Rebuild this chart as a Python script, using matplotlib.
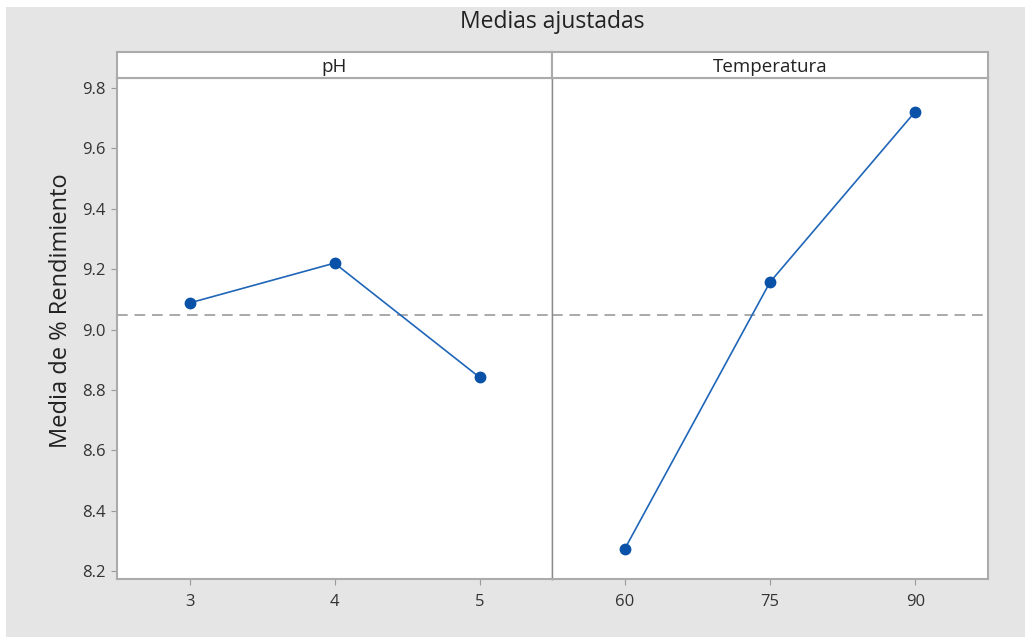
import matplotlib.pyplot as plt
from matplotlib.patches import Rectangle

plt.rcParams['font.family'] = ['Open Sans', 'DejaVu Sans']

title = "Medias ajustadas"
ylabel = "Media de % Rendimiento"
factors = ["pH", "Temperatura"]
ph_levels = ["3", "4", "5"]
ph_means = [9.088, 9.220, 8.842]
temp_levels = ["60", "75", "90"]
temp_means = [8.273, 9.157, 9.722]
grand_mean = 9.048
yticks = [8.2, 8.4, 8.6, 8.8, 9.0, 9.2, 9.4, 9.6, 9.8]

W, H = 1025, 637
fig = plt.figure(figsize=(W / 100, H / 100), dpi=100)
fig.patch.set_facecolor("white")
fig.patches.append(Rectangle((6 / W, 0), 1 - 6 / W, 1 - 7 / H, transform=fig.transFigure,
                             facecolor="#e5e5e5", edgecolor="none", zorder=-10))


def box(x0, y0, x1, y1):
    return [x0 / W, 1 - y1 / H, (x1 - x0) / W, (y1 - y0) / H]


spine_col = "#ababab"
line_col = "#1f66b8"
marker_col = "#0a52a8"

data = [(ph_levels, ph_means), (temp_levels, temp_means)]
xs = [(117, 552), (552, 988)]
for i, (levels, means) in enumerate(data):
    x0, x1 = xs[i]
    ax = fig.add_axes(box(x0, 78, x1, 579))
    ax.set_facecolor("white")
    pos = list(range(len(levels)))
    ax.axhline(grand_mean, color="#a9a9a9", lw=1.4, ls=(0, (5.5, 3.5)), zorder=1)
    ax.plot(pos, means, color=line_col, lw=1.2, zorder=2)
    ax.plot(pos, means, "o", color=marker_col, ms=7.5, zorder=3)
    ax.set_xlim(-0.5, 2.5)
    ax.set_ylim(8.174, 9.833)
    ax.set_xticks(pos)
    ax.set_xticklabels(levels)
    ax.set_yticks(yticks)
    if i == 0:
        ax.set_yticklabels([f"{v:.1f}" for v in yticks])
        ax.set_ylabel(ylabel, fontsize=17, color="#222222")
        ax.yaxis.set_label_coords(-0.102, 0.535)
    else:
        ax.tick_params(axis="y", left=False, labelleft=False)
    ax.tick_params(axis="both", direction="out", length=4, width=0.8, color="#9a9a9a",
                   labelsize=12, labelcolor="#333333", pad=4)
    ax.tick_params(axis="x", pad=7)
    for name, sp in ax.spines.items():
        sp.set_color(spine_col)
        sp.set_linewidth(1.5)
    if i == 0:
        ax.spines["right"].set_color("#8a8a8a")
        ax.spines["right"].set_linewidth(1.0)
    else:
        ax.spines["left"].set_color("#8a8a8a")
        ax.spines["left"].set_linewidth(1.0)

    hx = fig.add_axes(box(x0, 52, x1, 78))
    hx.set_facecolor("white")
    hx.set_xticks([])
    hx.set_yticks([])
    for sp in hx.spines.values():
        sp.set_color(spine_col)
        sp.set_linewidth(1.5)
    hx.text(0.5, 0.42, factors[i], ha="center", va="center", fontsize=13.5,
            color="#222222", transform=hx.transAxes)

fig.text(552 / W, 1 - 22 / H, title, ha="center", va="center", fontsize=16.5, color="#222222")

fig.savefig("out.png", dpi=100)
